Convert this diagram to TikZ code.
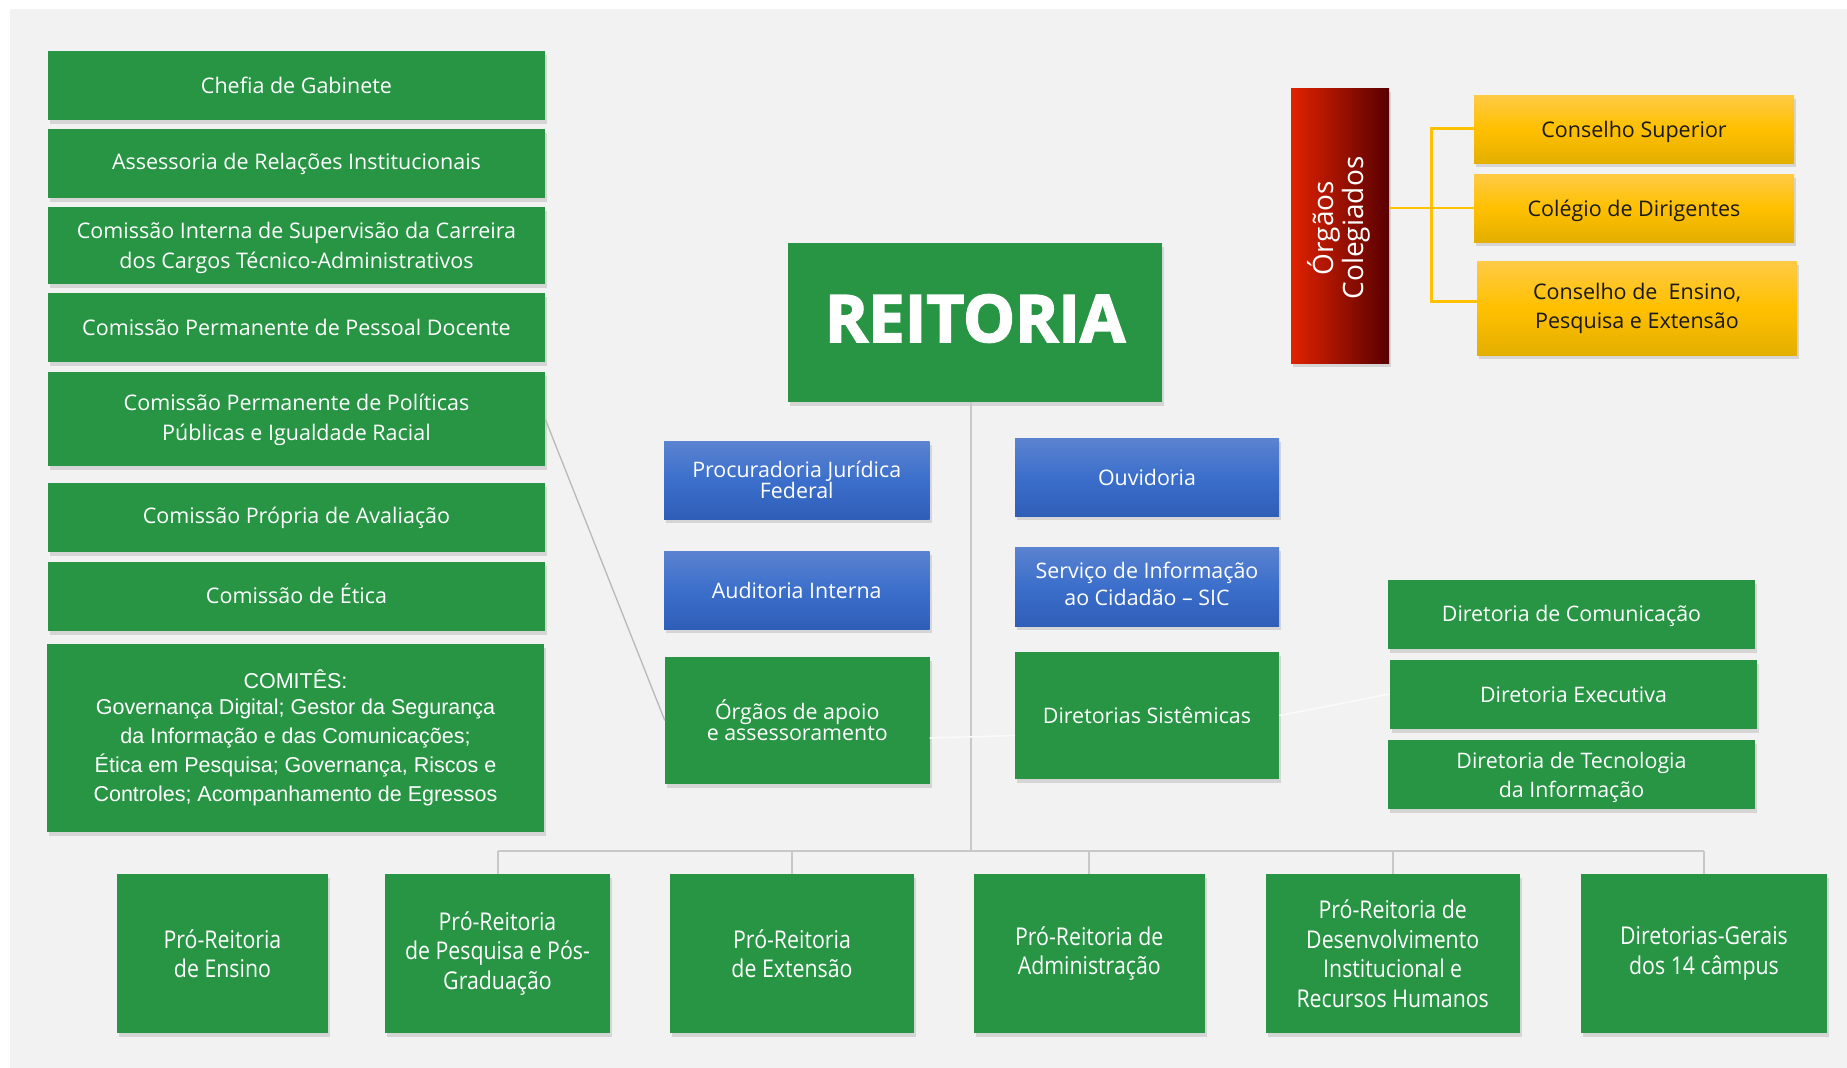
\documentclass[tikz,border=0pt]{standalone}
\usepackage{fontspec}
\setmainfont{Open Sans}
\newfontfamily\condfont[FakeStretch=0.87]{Open Sans}
\newfontfamily\arialfont{Liberation Sans}
\newfontfamily\heavyfont[FakeBold=2.5]{Open Sans}
\usetikzlibrary{shadows,calc}
\newcommand{\shiftup}[2]{\raisebox{#1}[\height][\depth]{#2}}
\definecolor{bgc}{HTML}{F2F2F2}
\definecolor{grc}{RGB}{39,149,68}
\definecolor{blueT}{HTML}{5B83D0}
\definecolor{blueM}{HTML}{3B6FCB}
\definecolor{blueB}{HTML}{2F5EB8}
\definecolor{yelT}{HTML}{FFCA45}
\definecolor{yelM}{HTML}{FFC000}
\definecolor{yelB}{HTML}{E4AF00}
\definecolor{redL}{HTML}{E02200}
\definecolor{redR}{HTML}{580000}
\definecolor{connc}{HTML}{C8C8C8}
\definecolor{goldc}{HTML}{FFC000}
\tikzset{
  boxbase/.style={draw=none, inner sep=2pt, align=center,
    drop shadow={opacity=0.25, shadow xshift=2pt, shadow yshift=-4pt}},
  gbox/.style={boxbase, fill=grc, text=white},
  leftbox/.style={gbox, minimum width=497pt, font=\fontsize{21.5pt}{30pt}\selectfont},
  bluebox/.style={boxbase, top color=blueT, bottom color=blueB, middle color=blueM, text=white,
    font=\fontsize{21.4pt}{27pt}\selectfont},
  midgreen/.style={gbox, font=\fontsize{21.4pt}{27pt}\selectfont},
  yelbox/.style={boxbase, top color=yelT, bottom color=yelB, middle color=yelM, text=black!90,
    minimum width=320pt, font=\fontsize{21.5pt}{29pt}\selectfont},
  dirbox/.style={gbox, minimum width=367pt, minimum height=69pt, font=\fontsize{21.4pt}{29pt}\selectfont},
  botbox/.style={gbox, minimum height=159pt, font=\condfont\fontsize{24.5pt}{29.5pt}\selectfont},
  connline/.style={draw=connc, line width=2pt},
  goldline/.style={draw=goldc, line width=2.5pt},
  faintline/.style={draw=white!96!gray, line width=1.5pt},
}
\begin{document}
\begin{tikzpicture}[x=1pt,y=-1pt]
\useasboundingbox (0,0) rectangle (1847,1068);
\fill[white] (0,0) rectangle (1847,1068);
\fill[bgc] (10,9) rectangle (1847,1068);

% left column
\node[leftbox, minimum height=69pt] (chefia) at (296.5,85.5) {Chefia de Gabinete};
\node[leftbox, minimum height=69pt] (assess) at (296.5,163.5) {Assessoria de Relações Institucionais};
\node[leftbox, minimum height=77pt] (interna) at (296.5,245.5) {\shiftup{-1.5pt}{\begin{tabular}{@{}c@{}}Comissão Interna de Supervisão da Carreira\\dos Cargos Técnico-Administrativos\end{tabular}}};
\node[leftbox, minimum height=69pt] (docente) at (296.5,327.5) {Comissão Permanente de Pessoal Docente};
\node[leftbox, minimum height=94pt] (politicas) at (296.5,419) {\begin{tabular}{@{}c@{}}Comissão Permanente de Políticas\\Públicas e Igualdade Racial\end{tabular}};
\node[leftbox, minimum height=69pt] (avaliacao) at (296.5,517.5) {Comissão Própria de Avaliação};
\node[leftbox, minimum height=69pt] (etica) at (296.5,596.5) {\shiftup{2.5pt}{Comissão de Ética}};
\node[gbox, minimum width=497pt, minimum height=188pt, font=\arialfont\fontsize{21.5pt}{29pt}\selectfont] (comites) at (295.5,738)
  {COMITÊS:\\[-3pt]Governança Digital; Gestor da Segurança\\da Informação e das Comunicações;\\Ética em Pesquisa; Governança, Riscos e\\Controles; Acompanhamento de Egressos};

% connectors (drawn before boxes that cover them)
\coordinate (busL) at (497.5,851);
\coordinate (busR) at (1704,851);
\coordinate (busM) at (970.5,851);

% Reitoria
\node[gbox, minimum width=374pt, minimum height=159pt, font=\heavyfont\bfseries\fontsize{65.5pt}{70pt}\selectfont] (reitoria) at (975,322.5) {\shiftup{4pt}{REITORIA}};
\coordinate (reitbot) at (970.5,402);
\draw[connline] (reitbot) -- (busM);

% central blocks
\node[bluebox, minimum width=265.5pt, minimum height=78pt, font=\fontsize{21.4pt}{21pt}\selectfont] (procur) at (796.75,480) {Procuradoria Jurídica\\Federal};
\node[bluebox, minimum width=265.5pt, minimum height=78pt] (audit) at (796.75,590) {Auditoria Interna};
\node[midgreen, minimum width=264.5pt, minimum height=127pt, font=\fontsize{21.4pt}{21pt}\selectfont] (apoio) at (797.25,720.5) {Órgãos de apoio\\e assessoramento};
\node[bluebox, minimum width=264pt, minimum height=78pt] (ouvid) at (1147,477) {Ouvidoria};
\node[bluebox, minimum width=264pt, minimum height=79pt] (sic) at (1147,586.5) {\begin{tabular}{@{}c@{}}Serviço de Informação\\ao Cidadão – SIC\end{tabular}};
\node[midgreen, minimum width=264pt, minimum height=127pt] (sistem) at (1147,715.5) {Diretorias Sistêmicas};

% Órgãos colegiados
\node[boxbase, left color=redL, right color=redR, minimum width=98pt, minimum height=275pt] (colegiados) at (1340,225.5) {};
\node[text=white, rotate=90, align=center, font=\fontsize{28pt}{29.5pt}\selectfont] (colegtxt) at (1339,228) {Órgãos\\Colegiados};
\node[yelbox, minimum height=68pt] (consup) at (1634,129) {\shiftup{-2.5pt}{Conselho Superior}};
\node[yelbox, minimum height=68pt] (coldir) at (1634,208) {\shiftup{-2.5pt}{Colégio de Dirigentes}};
\node[yelbox, minimum height=94pt] (consens) at (1637,308) {Conselho de\ \ Ensino,\\Pesquisa e Extensão};
\coordinate (ybusT) at (1431.6,128.7);
\coordinate (ybusB) at (1431.6,301.7);
\draw[goldline] (colegiados.east |- coldir.west) -- (coldir.west);
\draw[goldline] (consup.west |- ybusT) -- (ybusT) -- (ybusB) -- (consens.west |- ybusB);

% diretorias
\node[dirbox] (dircom) at (1571.5,614.5) {\shiftup{-1.2pt}{Diretoria de Comunicação}};
\node[dirbox] (direxe) at (1573.5,694.5) {Diretoria Executiva};
\node[dirbox] (dirti) at (1571.5,774.5) {\shiftup{-2.5pt}{\begin{tabular}{@{}c@{}}Diretoria de Tecnologia\\da Informação\end{tabular}}};

% thin connectors
\draw[draw=gray!55, line width=1.3pt] (politicas.east) -- (apoio.west);
\draw[faintline] ($(apoio.east)+(0,17.5)$) -- ($(sistem.west)+(0,20)$);
\draw[faintline] (sistem.east) -- ($(direxe.west)+(0,-0.5)$);

% bottom row
\node[botbox, minimum width=211pt] (ensino) at (222.5,953.5) {Pró-Reitoria\\de Ensino};
\node[botbox, minimum width=225pt] (pesq) at (497.5,953.5) {Pró-Reitoria\\de Pesquisa e Pós-\\Graduação};
\node[botbox, minimum width=244pt] (ext) at (792,953.5) {Pró-Reitoria\\de Extensão};
\node[botbox, minimum width=230.5pt] (adm) at (1089.25,953.5) {Pró-Reitoria de\\Administração};
\node[botbox, minimum width=254pt] (desenv) at (1392.7,953.5) {Pró-Reitoria de\\Desenvolvimento\\Institucional e\\Recursos Humanos};
\node[botbox, minimum width=246pt] (gerais) at (1704,953.5) {Diretorias-Gerais\\dos 14 câmpus};

\draw[connline] (busL) -- (busR);
\draw[connline] (busL) -- (pesq.north);
\draw[connline] (ext.north |- busL) -- (ext.north);
\draw[connline] (adm.north |- busL) -- (adm.north);
\draw[connline] (desenv.north |- busL) -- (desenv.north);
\draw[connline] (busR) -- (gerais.north);
\end{tikzpicture}
\end{document}
